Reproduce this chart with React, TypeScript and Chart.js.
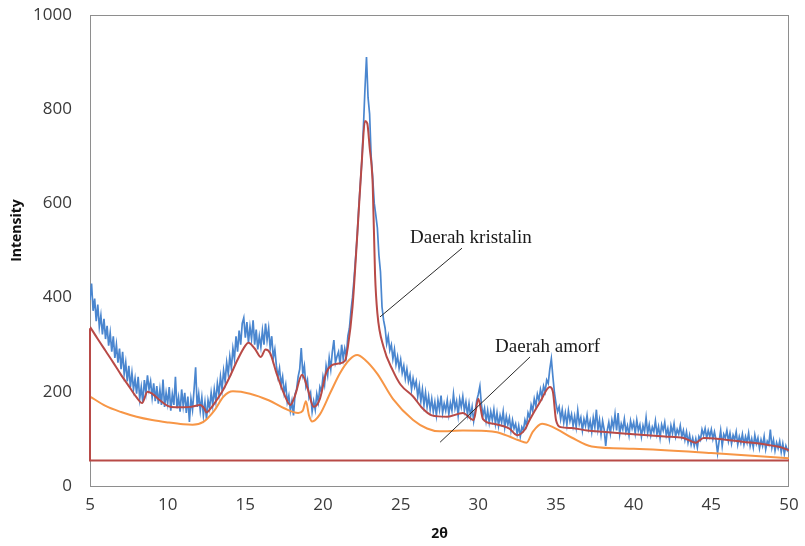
import { useEffect, useRef } from 'react';
import { Chart, registerables } from 'chart.js';

Chart.register(...registerables);

// 2θ sampling of the measured pattern
const observedStart = 5;
const observedStep = 0.1;
// measured XRD intensity (blue), one value per 0.1° from 5.0 to 50.0
const observedIntensity = [
  395, 430, 372, 398, 350, 385, 338, 362, 322, 355,
  312, 340, 298, 325, 285, 318, 272, 300, 262, 292,
  248, 285, 238, 262, 222, 255, 210, 240, 205, 228,
  196, 232, 185, 210, 178, 225, 198, 235, 205, 222,
  188, 218, 180, 212, 175, 205, 172, 226, 168, 198,
  175, 210, 160, 195, 172, 232, 165, 188, 158, 205,
  170, 198, 155, 190, 136, 185, 162, 205, 252, 168,
  195, 160, 188, 150, 178, 142, 182, 165, 198, 172,
  205, 180, 218, 195, 232, 205, 245, 222, 262, 238,
  275, 250, 292, 270, 318, 285, 330, 300, 345, 357,
  315, 348, 305, 338, 312, 352, 300, 332, 290, 318,
  295, 330, 300, 345, 310, 335, 292, 318, 272, 290,
  255, 232, 250, 215, 232, 198, 215, 178, 192, 160,
  180, 150, 195, 205, 232, 248, 293, 238, 255, 212,
  225, 188, 198, 158, 180, 162, 195, 178, 210, 200,
  232, 215, 255, 235, 272, 248, 285, 310, 262, 275,
  285, 258, 300, 270, 292, 275, 318, 335, 372, 401,
  440, 485, 530, 590, 640, 690, 760, 842, 911, 825,
  790, 700, 655, 600, 575, 548, 490, 455, 380, 352,
  335, 302, 318, 288, 300, 270, 290, 258, 275, 250,
  268, 240, 255, 228, 248, 222, 236, 205, 228, 210,
  222, 190, 212, 180, 205, 172, 198, 168, 190, 162,
  185, 158, 178, 150, 182, 162, 192, 155, 175, 160,
  182, 152, 176, 160, 195, 165, 180, 150, 185, 168,
  190, 160, 178, 152, 175, 148, 168, 138, 160, 182,
  195, 212, 172, 150, 165, 138, 160, 135, 158, 140,
  162, 132, 155, 128, 150, 135, 158, 125, 148, 130,
  145, 118, 140, 122, 132, 110, 128, 105, 125, 118,
  140, 128, 155, 145, 172, 160, 185, 170, 195, 182,
  205, 190, 212, 200, 225, 218, 248, 270, 232, 198,
  175, 158, 168, 142, 162, 135, 155, 130, 160, 138,
  152, 128, 148, 125, 160, 132, 145, 118, 142, 128,
  150, 122, 138, 115, 145, 125, 162, 120, 140, 110,
  138, 120, 85, 118, 135, 112, 140, 124, 152, 118,
  155, 110, 132, 120, 142, 115, 128, 108, 138, 122,
  135, 112, 140, 118, 130, 105, 128, 115, 145, 112,
  130, 108, 125, 115, 138, 110, 126, 102, 130, 118,
  135, 108, 122, 100, 128, 112, 132, 105, 120, 110,
  128, 105, 118, 98, 115, 92, 108, 88, 102, 85,
  100, 82, 105, 98, 120, 108, 122, 102, 118, 105,
  120, 100, 115, 98, 70, 95, 118, 85, 110, 102,
  118, 95, 112, 90, 108, 98, 115, 88, 105, 92,
  110, 88, 105, 92, 112, 85, 100, 82, 108, 90,
  102, 80, 98, 85, 105, 78, 95, 88, 120, 82,
  98, 75, 92, 80, 95, 72, 90, 68, 85, 75,
  80,
];

// fitted total curve (red)
const fitTheta = [5, 5.5, 6, 6.5, 7, 7.5, 8, 8.35, 8.7, 9, 9.5, 10, 10.5, 11, 11.5, 12.1, 12.35, 12.5, 12.7, 13, 13.5, 14, 14.5, 15, 15.2, 15.6, 16, 16.3, 16.6, 17, 17.5, 17.9, 18.2, 18.65, 19, 19.4, 19.8, 20.2, 20.6, 21, 21.4, 21.6, 21.9, 22.2, 22.5, 22.7, 22.85, 23, 23.2, 23.35, 23.5, 23.9, 24.5, 25, 25.8, 26.4, 27, 28, 29, 29.7, 30, 30.3, 31, 32, 32.5, 33, 33.3, 34, 34.6, 34.8, 35, 35.3, 36, 37, 38, 40, 42, 43.2, 44, 44.5, 45.5, 47, 48.5, 49.5, 50];
const fitIntensity = [338, 312, 287, 262, 236, 212, 188, 176, 200, 196, 182, 170, 167, 167, 168, 172, 165, 156, 162, 175, 200, 232, 268, 298, 304, 292, 274, 290, 282, 240, 195, 172, 192, 236, 208, 168, 185, 240, 257, 260, 265, 295, 380, 530, 690, 775, 770, 720, 640, 450, 367, 295, 245, 215, 190, 165, 150, 147, 155, 140, 185, 142, 132, 122, 108, 120, 140, 180, 210, 200, 140, 125, 123, 118, 115, 110, 105, 102, 92, 102, 100, 94, 88, 82, 76];

// amorphous contribution (orange)
const amorfTheta = [5, 6, 7, 8, 9, 10, 11, 11.6, 12.3, 13, 13.6, 14.2, 15.3, 16.5, 17.5, 18.4, 18.7, 18.9, 19.1, 19.3, 19.8, 20.5, 21.1, 21.7, 22.2, 22.7, 23.5, 24.5, 25.8, 26.7, 27.5, 29, 30.5, 31.2, 32, 32.6, 33.1, 33.5, 34.1, 34.8, 36, 37.3, 40, 45, 50];
const amorfIntensity = [190, 170, 157, 147, 140, 135, 131, 130, 136, 160, 190, 201, 196, 182, 165, 155, 160, 180, 150, 137, 152, 200, 240, 268, 278, 268, 238, 185, 140, 122, 116, 118, 117, 114, 105, 97, 92, 115, 132, 125, 103, 84, 79, 70, 59];

// background baseline (red)
const baseTheta = [5, 5, 50];
const baseIntensity = [335, 54, 54];

const xMin = 5, xMax = 50, xStepTick = 5;
const yMin = 0, yMax = 1000, yStepTick = 200;
const yTitle = 'Intensity';
const xTitle = '2θ';

const pairs = (xs: number[], ys: number[]) => xs.map((x, i) => ({ x, y: ys[i] }));

const overlayPlugin = {
  id: 'overlay',
  beforeDatasetsDraw(chart: any) {
    const { ctx, chartArea: a } = chart;
    ctx.save();
    ctx.strokeStyle = '#8e8e8e';
    ctx.lineWidth = 1;
    ctx.strokeRect(Math.round(a.left) + 0.5, Math.round(a.top) + 0.5, Math.round(a.right - a.left) - 1, Math.round(a.bottom - a.top));
    ctx.restore();
  },
  afterDatasetsDraw(chart: any) {
    const { ctx, scales, chartArea: a } = chart;
    const X = (v: number) => scales.x.getPixelForValue(v);
    const Y = (v: number) => scales.y.getPixelForValue(v);
    ctx.save();
    ctx.strokeStyle = '#2a2a2a';
    ctx.lineWidth = 1;
    ctx.beginPath();
    ctx.moveTo(X(28.95), Y(505));
    ctx.lineTo(X(23.67), Y(359));
    ctx.moveTo(X(33.33), Y(274));
    ctx.lineTo(X(27.54), Y(93));
    ctx.stroke();

    ctx.fillStyle = '#1a1a1a';
    ctx.font = '19px "Liberation Serif", serif';
    ctx.textBaseline = 'alphabetic';
    ctx.textAlign = 'left';
    ctx.fillText('Daerah kristalin', X(25.6), Y(516));
    ctx.fillText('Daerah amorf', X(31.08), Y(285));

    // y axis title (sits a little above the plot's middle, as in the source)
    ctx.translate(17, (a.top + a.bottom) / 2 - 20);
    ctx.rotate(-Math.PI / 2);
    ctx.font = 'bold 14px "Open Sans", sans-serif';
    ctx.fillStyle = '#111';
    ctx.textAlign = 'center';
    ctx.textBaseline = 'middle';
    ctx.fillText(yTitle, 0, 0);
    ctx.restore();
  },
};

export default function App() {
  const ref = useRef<HTMLCanvasElement | null>(null);
  useEffect(() => {
    if (!ref.current) return;
    const observed = observedIntensity.map((y, i) => ({ x: +(observedStart + i * observedStep).toFixed(2), y }));
    const tickFont = { family: '"Open Sans", sans-serif', size: 17 };
    const chart = new Chart(ref.current, {
      type: 'line',
      data: {
        datasets: [
          {
            label: 'baseline',
            data: pairs(baseTheta, baseIntensity),
            borderColor: '#b84a47',
            borderWidth: 2,
            pointRadius: 0,
            tension: 0,
            order: 1,
            clip: 4,
          } as any,
          {
            label: 'amorf',
            data: pairs(amorfTheta, amorfIntensity),
            borderColor: '#f79646',
            borderWidth: 2,
            pointRadius: 0,
            cubicInterpolationMode: 'monotone',
            order: 2,
          },
          {
            label: 'fit',
            data: pairs(fitTheta, fitIntensity),
            borderColor: '#b84a47',
            borderWidth: 2,
            pointRadius: 0,
            cubicInterpolationMode: 'monotone',
            order: 3,
          },
          {
            label: 'observed',
            data: observed,
            borderColor: '#4a86cf',
            borderWidth: 1.7,
            pointRadius: 0,
            tension: 0,
            order: 4,
          },
        ],
      },
      options: {
        animation: false,
        responsive: true,
        maintainAspectRatio: false,
        layout: { padding: { left: 0, right: 16, top: 15, bottom: 0 } },
        plugins: { legend: { display: false }, tooltip: { enabled: false } },
        scales: {
          x: {
            type: 'linear',
            min: xMin,
            max: xMax,
            grid: { display: false, drawTicks: false },
            border: { display: false },
            ticks: { stepSize: xStepTick, padding: 9, color: '#3a3a3a', font: tickFont, callback: (v: any) => String(v) },
            title: { display: true, text: xTitle, color: '#111', padding: { top: 4, bottom: 4 }, font: { family: '"Open Sans", sans-serif', size: 14, weight: 'bold' } },
            afterFit: (s: any) => { s.height = 60; s.paddingLeft = 0; s.paddingRight = 0; },
          },
          y: {
            min: yMin,
            max: yMax,
            grid: { display: false, drawTicks: false },
            border: { display: false },
            ticks: { stepSize: yStepTick, padding: 18, color: '#3a3a3a', font: tickFont, callback: (v: any) => String(v) },
            title: { display: false },
            afterFit: (s: any) => { s.width = 90; s.paddingTop = 0; s.paddingBottom = 0; },
          },
        },
      },
      plugins: [overlayPlugin],
    });
    return () => chart.destroy();
  }, []);
  return (
    <div style={{ position: 'fixed', left: 0, top: 0, width: 805, height: 546, background: '#fff' }}>
      <canvas ref={ref} />
    </div>
  );
}
